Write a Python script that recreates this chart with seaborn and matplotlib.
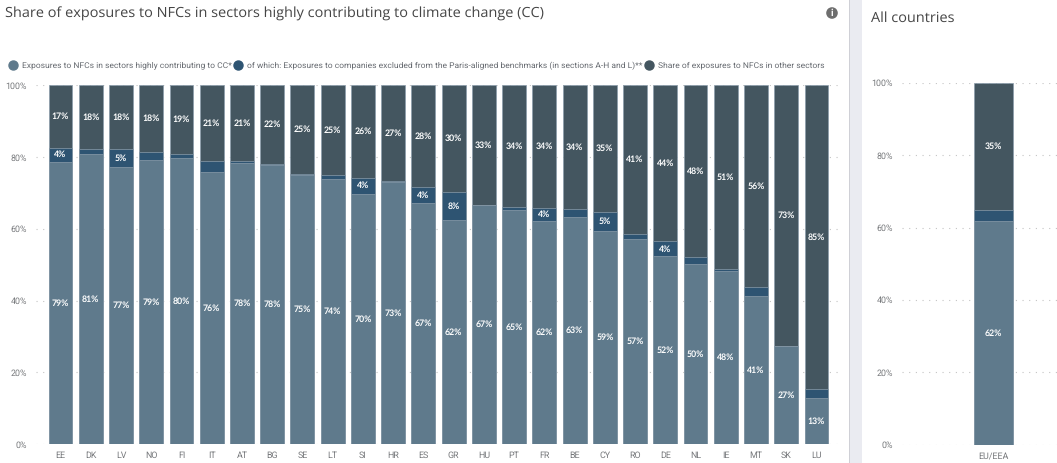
# Share of exposures to NFCs, stacked bars per country plus the EU/EEA panel
import matplotlib
matplotlib.use("Agg")
import matplotlib.pyplot as plt
from matplotlib.lines import Line2D
from matplotlib.patches import Circle, Rectangle
import seaborn as sns

#%% data
countries = ["EE", "DK", "LV", "NO", "FI", "IT", "AT", "BG", "SE", "LT", "SI", "HR", "ES",
             "GR", "HU", "PT", "FR", "BE", "CY", "RO", "DE", "NL", "IE", "MT", "SK", "LU"]
high_cc = [78.7, 80.8, 77.3, 79.1, 79.7, 75.9, 78.4, 77.7, 75.1, 73.8, 69.8, 73.1, 67.3,
           62.4, 66.8, 65.2, 62.2, 63.4, 59.3, 57.2, 52.4, 50.3, 48.2, 41.2, 27.4, 12.8]
excluded = [3.9, 1.6, 5.0, 2.4, 1.3, 3.0, 0.5, 0.5, 0.3, 1.3, 4.5, 0.3, 4.4,
            8.0, 0.0, 0.8, 3.6, 2.2, 5.4, 1.5, 4.1, 2.0, 0.7, 2.7, 0.0, 2.6]
other = [17.4, 17.6, 17.7, 18.5, 19.0, 21.1, 21.1, 21.8, 24.6, 24.9, 25.7, 26.6, 28.3,
         29.6, 33.2, 34.0, 34.2, 34.4, 35.3, 41.3, 43.5, 47.7, 51.1, 56.1, 72.6, 84.6]

all_name = ["EU/EEA"]
all_high_cc = [61.8]
all_excluded = [3.2]
all_other = [35.0]

y_ticks = [0, 20, 40, 60, 80, 100]
legend_labels = ["Exposures to NFCs in sectors highly contributing to CC*",
                 "of which: Exposures to companies excluded from the Paris-aligned benchmarks (in sections A-H and L)**",
                 "Share of exposures to NFCs in other sectors"]

c_high = "#5f7a8c"
c_excl = "#2e5472"
c_other = "#445660"
c_edge = "#8b9dab"
c_tick = "#77797c"
c_title = "#454545"

sns.set_theme(style="white")
plt.rcParams["font.family"] = ["Roboto", "DejaVu Sans"]
plt.rcParams["text.hinting"] = "none"

W, H = 1057, 463
fig = plt.figure(figsize=(W / 100, H / 100), dpi=100, facecolor="white")


def px_axes(left, right, top, bottom):
    return fig.add_axes([left / W, 1 - bottom / H, (right - left) / W, (bottom - top) / H])


def put_label(ax, x, y, val):
    ax.text(x, y, f"{val:.0f}%", color="white", fontsize=6.3, fontweight="bold",
            family=["Lato", "DejaVu Sans"], ha="center", va="center", zorder=4)


def stacked(ax, names, low, mid, high, bar_width, min_label=3.5):
    # tallest first, each shorter bar is painted over the one behind it
    tops_mid = [a + b for a, b in zip(low, mid)]
    tops_all = [a + b + c for a, b, c in zip(low, mid, high)]
    for vals, col in [(tops_all, c_other), (tops_mid, c_excl), (low, c_high)]:
        sns.barplot(x=names, y=vals, color=col, saturation=1, width=bar_width, ax=ax,
                    edgecolor=c_edge, linewidth=0.5, zorder=3)
    for i in range(len(names)):
        put_label(ax, i, low[i] / 2, low[i])
        if mid[i] >= min_label:
            put_label(ax, i, low[i] + mid[i] / 2, mid[i])
        put_label(ax, i, tops_mid[i] + high[i] / 2, high[i])
    ax.set_ylim(0, 100)
    ax.set_yticks(y_ticks)
    ax.set_yticklabels([f"{t}%" for t in y_ticks])
    ax.grid(axis="y", color="#c4c4c4", linewidth=0.8, linestyle=(0, (1, 5)), zorder=0)
    ax.set_axisbelow(True)
    ax.tick_params(axis="both", length=0, labelsize=6.4, labelcolor=c_tick)
    ax.tick_params(axis="y", pad=6.3)
    ax.tick_params(axis="x", pad=5)
    ax.set_xlabel("")
    ax.set_ylabel("")
    sns.despine(ax=ax, left=True, bottom=True)


#%% main panel
ax = px_axes(35.5, 841, 85.4, 444.2)
stacked(ax, countries, high_cc, excluded, other, 0.79)
ax.set_xlim(-0.827, 25.81)

#%% right panel
ax2 = px_axes(901.5, 1057, 83, 444.7)
stacked(ax2, all_name, all_high_cc, all_excluded, all_other, 0.79)
ax2.set_xlim(-1.893, 1.307)

#%% page furniture
fig.add_artist(Rectangle((849 / W, 0), 12.5 / W, 1, transform=fig.transFigure,
                         facecolor="#eaebf1", edgecolor="none"))
fig.add_artist(Rectangle((849 / W, 0), 1.2 / W, 1, transform=fig.transFigure,
                         facecolor="#cfd0d6", edgecolor="none"))

fig.text(5 / W, 1 - 13.5 / H, "Share of exposures to NFCs in sectors highly contributing to climate change (CC)",
         fontsize=10.42, color=c_title, family=["Open Sans", "DejaVu Sans"], va="center", ha="left")
fig.text(871 / W, 1 - 18 / H, "All countries", fontsize=10.42, color=c_title,
         family=["Open Sans", "DejaVu Sans"], va="center", ha="left")

# info icon, circle has to stay round so it is drawn in pixel coordinates
fig.add_artist(Circle((832, H - 13), 5.8, transform=None, facecolor="#6e6e6e", edgecolor="none"))
fig.text(832 / W, 1 - 13 / H, "i", color="white", fontsize=7, fontweight="bold", ha="center", va="center")

handles = [Line2D([], [], marker="o", linestyle="none", markersize=6.5, color=c)
           for c in (c_high, c_excl, c_other)]
fig.legend(handles, legend_labels, ncol=3, frameon=False, loc="center left",
           bbox_to_anchor=(4 / W, 1 - 65.5 / H), fontsize=6.12, labelcolor="#666a70",
           handletextpad=0.12, columnspacing=-0.3, borderpad=0, borderaxespad=0)

fig.savefig("out.png", dpi=100)
